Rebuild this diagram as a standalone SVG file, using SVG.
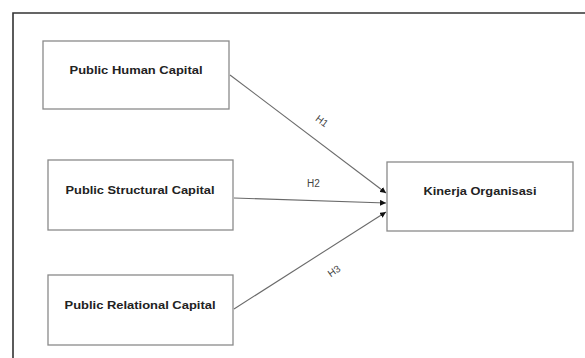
<svg xmlns="http://www.w3.org/2000/svg" width="585" height="358" viewBox="0 0 585 358">
<style>
.box{fill:#fff;stroke:#8a8a8a;stroke-width:1.3}
.lbl{font-family:"Liberation Sans",Arial,sans-serif;font-weight:bold;font-size:11px;fill:#222;text-anchor:middle}
.h{font-family:"Liberation Sans",Arial,sans-serif;font-size:10px;fill:#444;text-anchor:middle}
.conn{stroke:#6a6a6a;stroke-width:1.1;fill:none}
</style>
<defs>
<marker id="arr" viewBox="0 0 10 10" refX="10" refY="5" markerWidth="6" markerHeight="6" orient="auto" markerUnits="userSpaceOnUse">
<path d="M0,0 L10,5 L0,10 z" fill="#111"/>
</marker>
</defs>
<rect width="585" height="358" fill="#fff"/>
<g id="frame">
<path d="M13,358 L13,13 L585,13" fill="none" stroke="#333" stroke-width="1.6"/>
</g>
<g id="n1">
<rect class="box" x="43" y="41" width="186" height="68"/>
<text class="lbl" x="136" y="74" textLength="133" lengthAdjust="spacingAndGlyphs">Public Human Capital</text>
</g>
<g id="n2">
<rect class="box" x="48" y="160" width="185" height="70"/>
<text class="lbl" x="140" y="194" textLength="149" lengthAdjust="spacingAndGlyphs">Public Structural Capital</text>
</g>
<g id="n3">
<rect class="box" x="48" y="275" width="185" height="70"/>
<text class="lbl" x="140" y="309" textLength="151" lengthAdjust="spacingAndGlyphs">Public Relational Capital</text>
</g>
<g id="n4">
<rect class="box" x="387" y="162" width="186" height="69"/>
<text class="lbl" x="480" y="195" textLength="113" lengthAdjust="spacingAndGlyphs">Kinerja Organisasi</text>
</g>
<g id="connectors">
<line class="conn" x1="230" y1="75" x2="386" y2="193" marker-end="url(#arr)"/>
<line class="conn" x1="234" y1="198" x2="386" y2="203" marker-end="url(#arr)"/>
<line class="conn" x1="234" y1="309" x2="386" y2="212" marker-end="url(#arr)"/>
<text class="h" transform="translate(322,121) rotate(37)" y="3.5">H1</text>
<text class="h" x="313.5" y="186.5">H2</text>
<text class="h" transform="translate(334,271) rotate(-35)" y="3.5">H3</text>
</g>
</svg>
